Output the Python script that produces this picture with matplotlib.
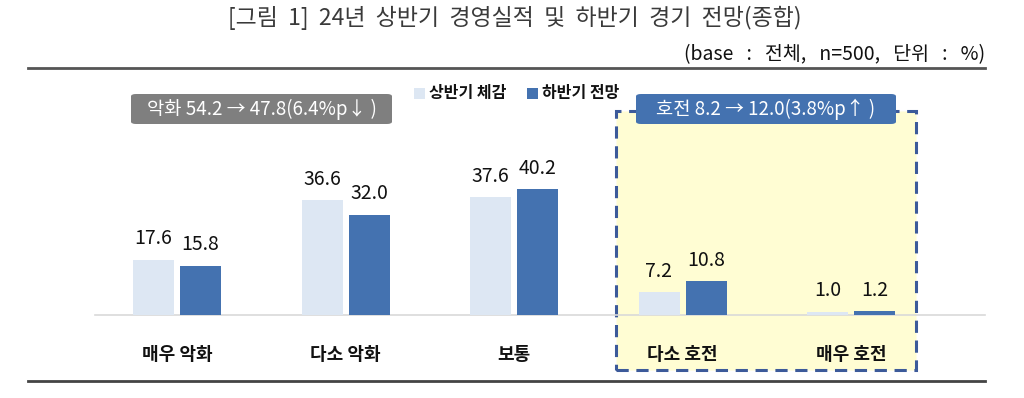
import matplotlib
matplotlib.use("Agg")
import matplotlib.pyplot as plt
from matplotlib.patches import FancyBboxPatch, Rectangle
import numpy as np

plt.rcParams['font.family'] = ['Noto Sans CJK KR', 'DejaVu Sans']

categories = ['매우 악화', '다소 악화', '보통', '다소 호전', '매우 호전']
first_half = [17.6, 36.6, 37.6, 7.2, 1.0]
second_half = [15.8, 32.0, 40.2, 10.8, 1.2]
series_names = ['상반기 체감', '하반기 전망']
title = '[그림  1]  24년  상반기  경영실적  및  하반기  경기  전망(종합)'
subtitle = '(base   :   전체,   n=500,   단위   :   %)'
neg_note = '악화 54.2 → 47.8(6.4%p↓ )'
pos_note = '호전 8.2 → 12.0(3.8%p↑ )'

LIGHT = '#dde7f3'
DARK = '#4472b0'

W, H = 1024, 398
fig = plt.figure(figsize=(W / 100, H / 100), dpi=100)
ax = fig.add_axes([0, 0, 1, 1])

px_per_x = 168.5
x0px = 177
px_per_y = 3.13
base_px = 315
ax.set_xlim(-x0px / px_per_x, (W - x0px) / px_per_x)
ax.set_ylim(-(H - base_px) / px_per_y, base_px / px_per_y)
ax.axis('off')

def px2x(p):
    return (p - x0px) / px_per_x

def py2y(p):
    return (base_px - p) / px_per_y

# highlight box
hx0, hx1, hy0, hy1 = px2x(616), px2x(916), py2y(370), py2y(111)
ax.add_patch(Rectangle((hx0, hy0), hx1 - hx0, hy1 - hy0, facecolor='#fffdd3',
                       edgecolor='#3c5a9a', linewidth=2.2, linestyle=(0, (4, 2.5)), zorder=1))

x = np.arange(len(categories))
bw = 41 / px_per_x
off = 23.5 / px_per_x
ax.bar(x - off, first_half, width=bw, color=LIGHT, zorder=3)
ax.bar(x + off, second_half, width=bw, color=DARK, zorder=3)

ax.plot([px2x(95), px2x(985)], [0, 0], color='#d9d9d9', linewidth=1.2, zorder=2)

for xi, a, b in zip(x, first_half, second_half):
    ax.text(xi - off, a + 3.4, f'{a:.1f}', ha='center', va='bottom', fontsize=14, color='#111111', zorder=4)
    ax.text(xi + off, b + 3.4, f'{b:.1f}', ha='center', va='bottom', fontsize=14, color='#111111', zorder=4)
    ax.text(xi, py2y(355), categories[xi], ha='center', va='center', fontsize=13, fontweight='bold', color='#111111', zorder=4)

def note_box(px_l, px_r, py_t, py_b, color, text):
    l, r = px2x(px_l), px2x(px_r)
    t, b = py2y(py_t), py2y(py_b)
    ax.add_patch(FancyBboxPatch((l, b), r - l, t - b,
                                boxstyle='round,pad=0,rounding_size=0.03',
                                mutation_aspect=(t - b) / (r - l) * 4,
                                facecolor=color, edgecolor='none', zorder=5))
    ax.text((l + r) / 2, (t + b) / 2, text, ha='center', va='center', fontsize=13.5,
            color='white', zorder=6)

note_box(131, 392, 94, 124, '#7f7f7f', neg_note)
note_box(636, 896, 94, 124, DARK, pos_note)

sq = 11
for (lpx, col, name) in [(414, LIGHT, series_names[0]), (527, DARK, series_names[1])]:
    ax.add_patch(Rectangle((px2x(lpx), py2y(99)), sq / px_per_x, sq / px_per_y, facecolor=col, edgecolor='none', zorder=5))
    ax.text(px2x(lpx + 15), py2y(93), name, ha='left', va='center', fontsize=11.5, fontweight='bold', color='#111111', zorder=5)

fig.text(515 / W, 1 - 18 / H, title, ha='center', va='center', fontsize=16.5, color='#3a3a3a')
fig.text(985 / W, 1 - 55 / H, subtitle, ha='right', va='center', fontsize=14, color='#111111')

ax.plot([px2x(28), px2x(985)], [py2y(68), py2y(68)], color='#555555', linewidth=2.0, zorder=2, clip_on=False)
ax.plot([px2x(28), px2x(985)], [py2y(381), py2y(381)], color='#444444', linewidth=2.0, zorder=2, clip_on=False)

fig.savefig('out.png', dpi=100, facecolor='white')
